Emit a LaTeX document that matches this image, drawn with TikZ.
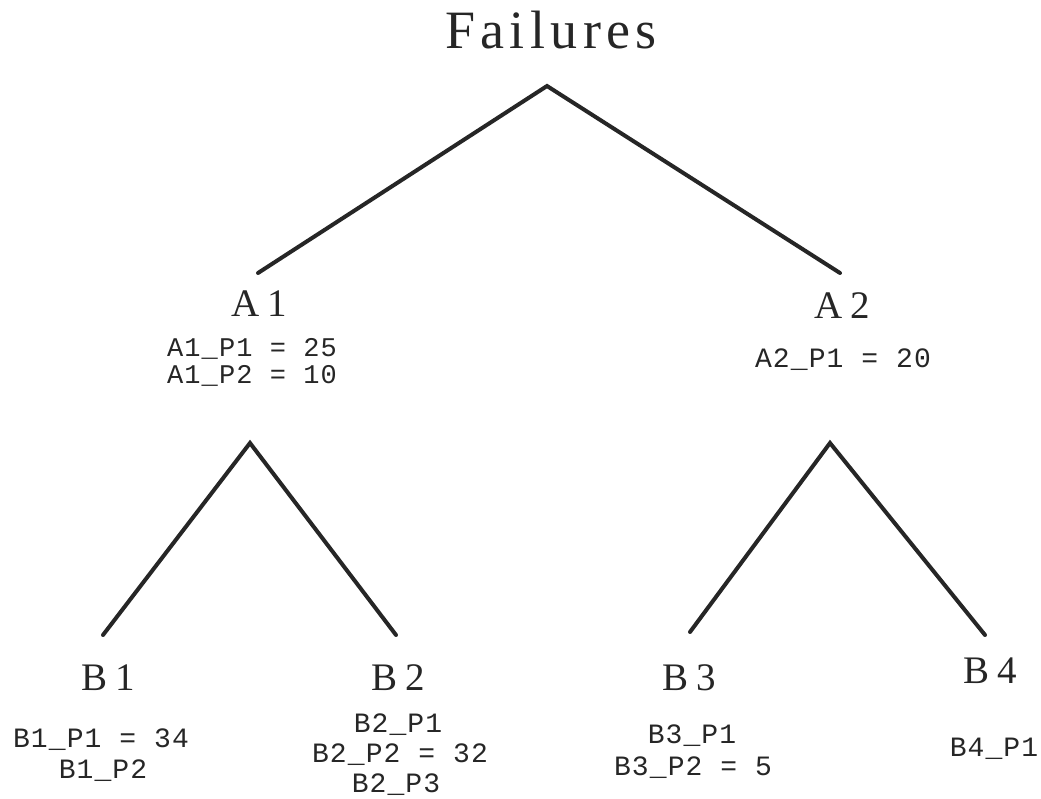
\documentclass[tikz,border=0pt]{standalone}
\usepackage{fontspec}
\setmainfont{Liberation Serif}
\newfontfamily\titlefont[LetterSpace=10]{Liberation Serif}
\newfontfamily\labfont[LetterSpace=20]{Liberation Serif}
\newfontfamily\codefont[LetterSpace=4]{Liberation Mono}
\begin{document}
\begin{tikzpicture}[x=1pt,y=-1pt,
  branch/.style={line width=4pt,line cap=round,line join=miter,black!85},
  title/.style={inner sep=0pt,anchor=base,font=\titlefont\fontsize{54}{60}\selectfont,text=black!85},
  lab/.style={inner sep=0pt,anchor=base,font=\labfont\fontsize{39}{44}\selectfont,text=black!85},
  code/.style={inner sep=0pt,anchor=base,font=\codefont\fontsize{28}{24}\selectfont,text=black!85}]
\useasboundingbox (0,0) rectangle (1041,799);
% labels
\node[title] (fail) at (551,49) {Failures};
\node[lab] (a1) at (259,317) {A1};
\node[code,align=center,font=\codefont\fontsize{27}{27}\selectfont] (a1p) at (252,383) {A1\_P1 = 25\\A1\_P2 = 10};
\node[lab] (a2) at (842,319) {A2};
\node[code] (a2p1) at (843,367) {A2\_P1 = 20};
\node[lab] (b1) at (108,690) {B1};
\node[code] (b1p1) at (101,747) {B1\_P1 = 34};
\node[code] (b1p2) at (103,778) {B1\_P2};
\node[lab] (b2) at (398,690) {B2};
\node[code] (b2p1) at (398,732) {B2\_P1};
\node[code] (b2p2) at (400,762) {B2\_P2 = 32};
\node[code] (b2p3) at (396,792) {B2\_P3};
\node[lab] (b3) at (689,690) {B3};
\node[code] (b3p1) at (692,743) {B3\_P1};
\node[code] (b3p2) at (693,775) {B3\_P2 = 5};
\node[lab] (b4) at (990,683) {B4};
\node[code] (b4p1) at (994,756) {B4\_P1};
% branch points
\coordinate (root) at (547,86);
\coordinate (rl) at (258,273);
\coordinate (rr) at (840,273);
\coordinate (a1top) at (250,443);
\coordinate (a1l) at (103,635);
\coordinate (a1r) at (396,635);
\coordinate (a2top) at (830,443);
\coordinate (a2l) at (690,632);
\coordinate (a2r) at (985,635);
\draw[branch] (rl) -- (root) -- (rr);
\draw[branch] (a1l) -- (a1top) -- (a1r);
\draw[branch] (a2l) -- (a2top) -- (a2r);
\end{tikzpicture}
\end{document}
